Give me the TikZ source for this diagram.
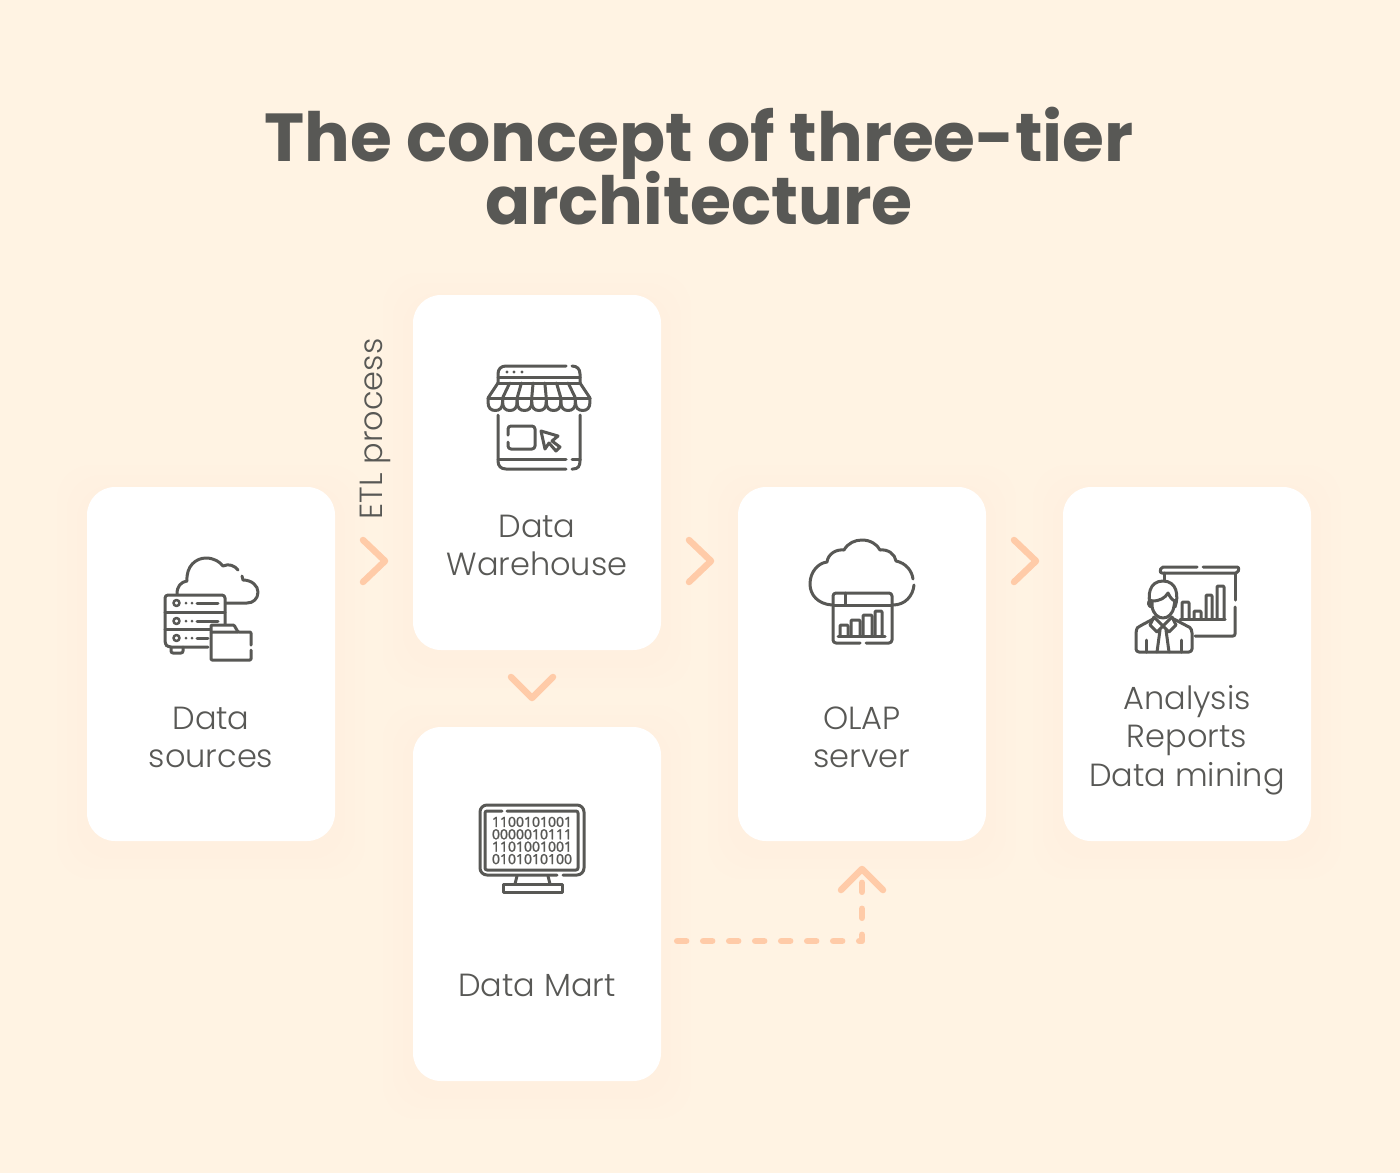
\documentclass[tikz,border=0pt]{standalone}
\usepackage{fontspec}
\usetikzlibrary{calc}
\setmainfont{Poppins}
\newfontfamily\titlefont{Poppins Bold}
\newfontfamily\labelfont{Poppins Light}
\newfontfamily\digitfont[FakeBold=1.6]{Open Sans}
\definecolor{bgc}{HTML}{FFF3E3}
\definecolor{ink}{HTML}{585855}
\definecolor{peach}{HTML}{FFCBA8}
\tikzset{
  card/.style={fill=white,draw=none,rounded corners=28,minimum width=248,minimum height=#1,inner sep=0},
  lbl/.style={font=\labelfont\fontsize{32}{38.5}\selectfont,text=ink,align=center,inner sep=0},
  ttl/.style={font=\titlefont\fontsize{#1}{64}\selectfont,text=ink,anchor=base,inner sep=0},
  ic/.style={draw=ink,line width=3,line cap=round,line join=round},
  chev/.style={draw=peach,line width=6.5,line cap=round,line join=round},
  glow/.style={fill=peach,fill opacity=.006,draw=none}
}
\begin{document}
\begin{tikzpicture}[x=1pt,y=-1pt]
\fill[bgc] (0,0) rectangle (1400,1173);
\useasboundingbox (0,0) rectangle (1400,1173);
% soft glow
\foreach \xa/\ya/\xb/\yb in {87/487/335/841,413/295/661/650,413/727/661/1081,738/487/986/841,1063/487/1311/841}{
  \foreach \e in {10,20,30}{
    \fill[glow,rounded corners=34] (\xa-\e,\ya-\e+8) rectangle (\xb+\e,\yb+\e+8);
  }
}
\node[card=354] (src) at (211,664) {};
\node[card=355] (dw) at (537,472.5) {};
\node[card=354] (mart) at (537,904) {};
\node[card=354] (olap) at (862,664) {};
\node[card=354] (ana) at (1187,664) {};

\node[ttl=67.9] (title1) at (699,161) {The concept of three-tier};
\node[ttl=66.5] (title2) at (699,224) {architecture};

\node[lbl] (l1) at (211,737.5) {Data\\sources};
\node[lbl] (l2) at (537,545.5) {Data\\Warehouse};
\node[lbl] (l3) at (537,985) {Data Mart};
\node[lbl] (l4) at (862,737.5) {OLAP\\server};
\node[lbl] (l5) at (1187,740) {Analysis\\Reports\\Data mining};
\node[lbl,rotate=90] (etl) at (375,429) {ETL process};

% chevrons
\draw[chev] (363,540) -- (385,561) -- (363,582);
\draw[chev] (689,540) -- (711,561) -- (689,582);
\draw[chev] (1014,540) -- (1036,561) -- (1014,582);
\draw[chev] (511,677) -- (532,698) -- (553,677);
\draw[chev] (841,890) -- (862,869) -- (883,890);
% dashed connector
\coordinate (dashstart) at ($(mart.east)+(16,37)$);
\coordinate (dashend) at ($(olap.south)+(0,34)$);
\draw[peach,line width=6.5,line cap=round,line join=round,dash pattern=on 9 off 17] (dashstart) -| (dashend);

% icon 1: data sources
\draw[ic] (177,594) .. controls (177,586) and (181,582) .. (187,581) .. controls (186,566) and (196,558) .. (206,558) .. controls (214,558) and (220,562) .. (223,566) .. controls (229,563) and (235,566) .. (238,570);
\draw[ic] (242,576) -- (243,580) .. controls (252,580) and (258,586) .. (258,592) .. controls (258,599) and (253,603) .. (247,603) -- (226,603);
\draw[ic,rounded corners=3] (208,647) -- (168,647) -- (165,644) -- (165,595) -- (225,595) -- (225,624);
\draw[ic] (165,612) -- (225,612) (165,629) -- (210,629);
\foreach \y in {603,621,638}{
  \draw[ic,line width=2.5] (176.5,\y) circle (3);
  \fill[ink] (186,\y) circle (1.5) (192,\y) circle (1.5);
}
\draw[ic] (197,603) -- (218,603) (197,621) -- (218,621) (197,638) -- (208,638);
\draw[ic,rounded corners=2] (171,647) -- (171,653) -- (183,653) -- (183,647);
\draw[ic,rounded corners=1] (211,632) -- (211,625) -- (234,625) -- (238,632) -- (251,632) -- (251,645);
\draw[ic,rounded corners=1] (251,650) -- (251,660) -- (211,660) -- (211,632) -- (238,632);

% icon 2: shop
\draw[ic] (498,383) -- (498,374) .. controls (498,369) and (501,366) .. (506,366) -- (566,366);
\draw[ic] (572,366) .. controls (577,366) and (580,369) .. (580,374) -- (580,383);
\draw[ic] (498,377) -- (580,377) (498,383) -- (580,383);
\fill[ink] (507,372) circle (1.6) (514,372) circle (1.6) (522,372) circle (1.6);
\draw[ic] (498,383) -- (488,398);
\draw[ic] (580,383) -- (590,398);
\draw[ic] (488,398) -- (590,398);
\foreach \i in {1,...,6}{
  \draw[ic] ({498+11.7*\i},383) -- ({488+14.57*\i},398);
}
\foreach \i in {0,...,6}{
  \draw[ic] ({488+14.57*\i},398) -- ({488+14.57*\i},402) .. controls ({488+14.57*\i},408) and ({491+14.57*\i},410.5) .. ({495.3+14.57*\i},410.5) .. controls ({499.6+14.57*\i},410.5) and ({502.57+14.57*\i},408) .. ({502.57+14.57*\i},402) -- ({502.57+14.57*\i},398);
}
\draw[ic] (498,415) -- (498,461) .. controls (498,466) and (501,469) .. (506,469) -- (566,469);
\draw[ic] (572,469) -- (573,469) .. controls (578,469) and (580,466) .. (580,461) -- (580,415);
\draw[ic] (498,459) -- (566,459) (572,459) -- (580,459);
\draw[ic,rounded corners=3] (508,435) -- (508,426) -- (535,426) -- (535,449) -- (508,449) -- (508,442);
\draw[ic] (541,431) -- (558,436) -- (552,441) -- (560,447) -- (556,451) -- (549,443) -- (545,449) -- cycle;

% icon 3: cloud window
\draw[ic] (832,605) .. controls (818,604) and (810,595) .. (810,584) .. controls (810,572) and (818,563) .. (827,562) .. controls (828,554) and (836,549) .. (844,550) .. controls (848,543) and (855,540) .. (862,540) .. controls (870,540) and (877,544) .. (880,550) .. controls (888,549) and (895,554) .. (896,561) .. controls (906,563) and (912,571) .. (913,579);
\draw[ic] (914,585) .. controls (913,596) and (905,605) .. (893,605);
\draw[ic,rounded corners=3] (860,643) -- (833,643) -- (833,593) -- (892,593) -- (892,643) -- (866,643);
\draw[ic] (833,605) -- (892,605) (845,593) -- (845,605) (838,636) -- (885,636);
\draw[ic,rounded corners=1] (840,636) -- (840,625) -- (848,625) -- (848,636);
\draw[ic,rounded corners=1] (851,636) -- (851,620) -- (860,620) -- (860,636);
\draw[ic,rounded corners=1] (863,636) -- (863,615) -- (872,615) -- (872,636);
\draw[ic,rounded corners=1] (875,636) -- (875,611) -- (882,611) -- (882,636);

% icon 4: presenter
\draw[ic,rounded corners=2] (1197,567) -- (1161,567) -- (1160,573) -- (1238,573) -- (1239,567) -- (1203,567);
\draw[ic] (1164,573) -- (1164,580);
\draw[ic] (1235,573) -- (1235,600);
\draw[ic,rounded corners=2] (1235,607) -- (1235,636) -- (1195,636);
\draw[ic] (1180,619) -- (1225,619);
\draw[ic,rounded corners=1] (1182,619) -- (1182,602) -- (1189,602) -- (1189,619);
\draw[ic,rounded corners=1] (1194,619) -- (1194,611) -- (1201,611) -- (1201,619);
\draw[ic,rounded corners=1] (1206,619) -- (1206,595) -- (1212,595) -- (1212,619);
\draw[ic,rounded corners=1] (1217,619) -- (1217,586) -- (1224,586) -- (1224,619);
% head and hair
\draw[ic] (1151,607) .. controls (1147,596) and (1149,581) .. (1163,581) .. controls (1177,581) and (1179,596) .. (1175,607);
\draw[ic] (1152,601) .. controls (1160,601) and (1165,598) .. (1168,593) .. controls (1170,597) and (1172,600) .. (1175,601);
\draw[ic] (1152,601) -- (1152,606) .. controls (1153,614) and (1158,618) .. (1163,618) .. controls (1168,618) and (1173,614) .. (1174,606) -- (1175,601);
\draw[ic] (1151,600) .. controls (1147,601) and (1148,607) .. (1152,607);
% torso
\draw[ic,rounded corners=3] (1155,618) -- (1140,626) .. controls (1137,628) and (1136,631) .. (1136,636) -- (1136,652) -- (1192,652) -- (1192,636) .. controls (1192,631) and (1191,628) .. (1187,626) -- (1172,618);
\draw[ic] (1154,617) -- (1163,626) -- (1172,617);
\draw[ic] (1154,617) -- (1150,625) -- (1157,632) -- (1163,626) -- (1169,632) -- (1176,625) -- (1172,617);
\draw[ic] (1160,630) -- (1157,652) (1166,630) -- (1169,652);
\draw[ic] (1146,640) -- (1146,652) (1181,640) -- (1181,652);

% icon 5: monitor
\draw[ic,rounded corners=7] (557,875) -- (480,875) -- (480,805) -- (584,805) -- (584,875) -- (563,875);
\draw[ic,rounded corners=2] (502,811) -- (485,811) -- (485,870) -- (578,870) -- (578,811) -- (507,811);
\draw[ic] (517,876) -- (515,884) (548,876) -- (550,884);
\draw[ic] (503,884) rectangle (562,892);
\node[font=\digitfont\fontsize{14}{12.4}\selectfont,text=ink,align=center,inner sep=0] (bits) at (532,840.5) {1100101001\\0000010111\\1101001001\\0101010100};
\end{tikzpicture}
\end{document}
